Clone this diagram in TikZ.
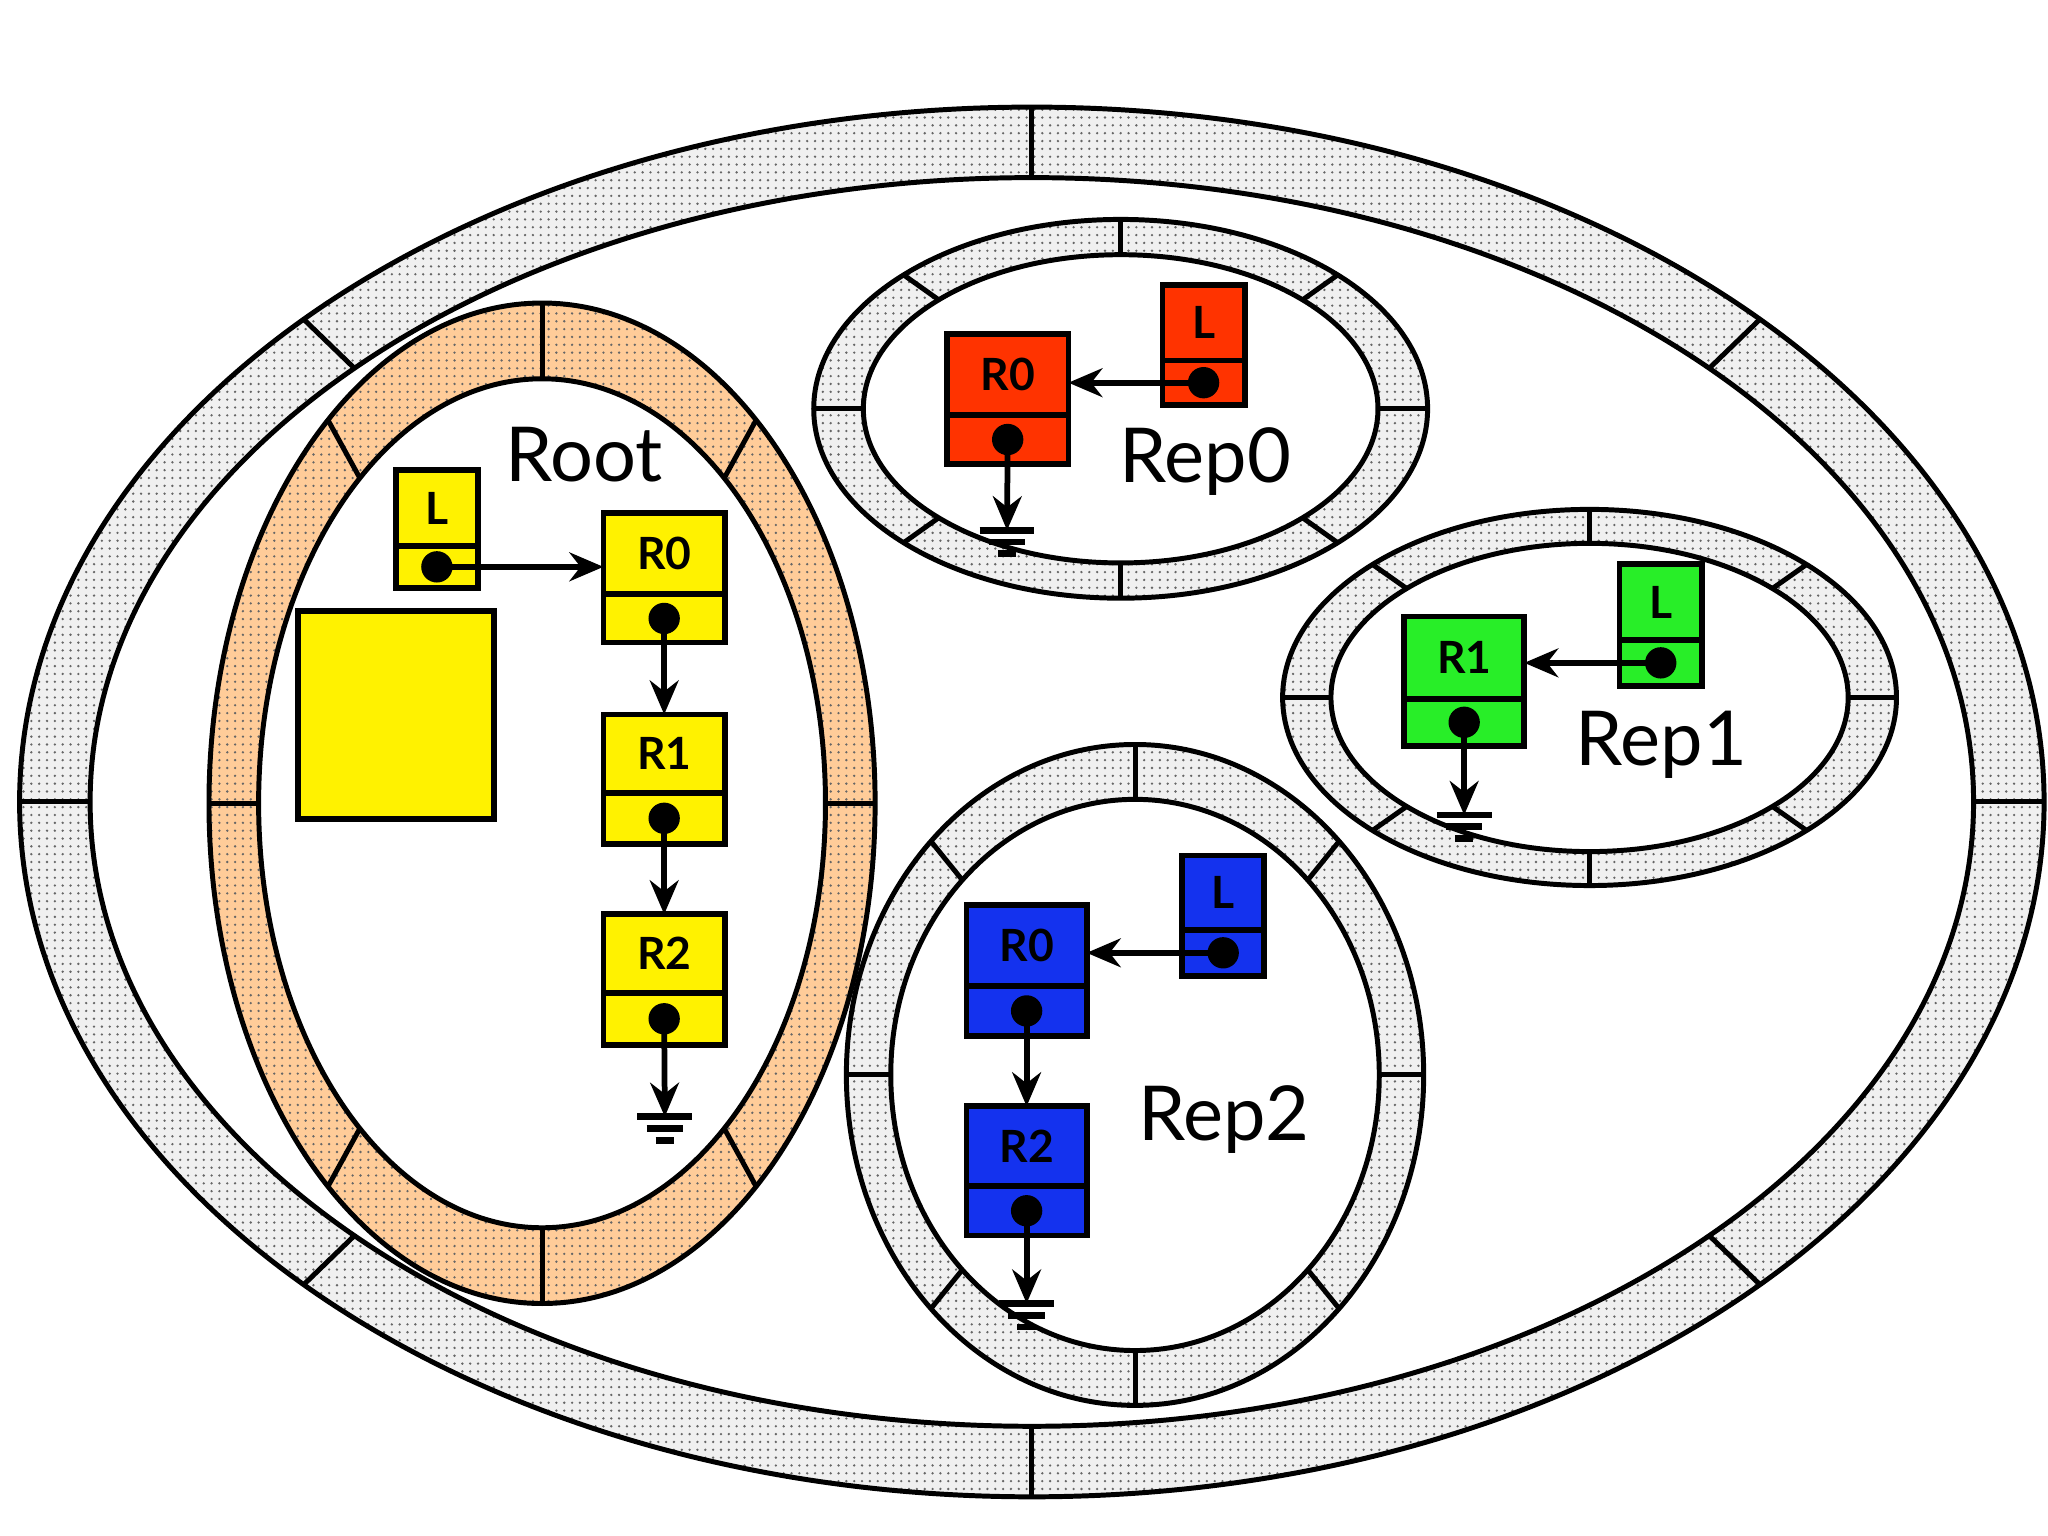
\documentclass[tikz,border=0pt]{standalone}
\usepackage{fontspec}
\setmainfont{Lato}
\usetikzlibrary{patterns,arrows.meta,calc}
\tikzset{
 ringline/.style={line width=1.9pt},
 boxline/.style={line width=2.2pt},
 conn/.style={line width=2.2pt,-{Stealth[length=13pt,width=11pt]}},
 lbl/.style={font=\fontsize{17}{17}\bfseries\selectfont},
 big/.style={font=\fontsize{29}{29}\selectfont}
}
\newcommand\myring[8]{% cx cy rxo ryo rxi ryi fill angles
 \fill[#7,even odd rule] (#1,#2) ellipse [x radius=#3,y radius=#4] (#1,#2) ellipse [x radius=#5,y radius=#6];
 \fill[pattern=dots,pattern color=gray!80!black,even odd rule] (#1,#2) ellipse [x radius=#3,y radius=#4] (#1,#2) ellipse [x radius=#5,y radius=#6];
 \draw[ringline] (#1,#2) ellipse [x radius=#3,y radius=#4] (#1,#2) ellipse [x radius=#5,y radius=#6];
 \foreach \t in {#8} {\draw[ringline] ({#1+#5*cos(\t)},{#2-#6*sin(\t)}) -- ({#1+#3*cos(\t)},{#2-#4*sin(\t)});}
}
\newcommand\rbox[8]{% name x1 y1 x2 y2 div label color
 \draw[boxline,fill=#8] (#2,#3) rectangle (#4,#5);
 \draw[boxline] (#2,#6) -- (#4,#6);
 \node[lbl] (#1) at ({(#2+#4)/2},{(#3+#6)/2}) {#7};
 \coordinate (#1-top) at ({(#2+#4)/2},#3);
 \coordinate (#1-left) at (#2,{(#3+#6)/2});
 \coordinate (#1-right) at (#4,{(#3+#6)/2});
 \coordinate (#1-dot) at ({(#2+#4)/2},{(#6+#5)/2});
 \fill (#1-dot) circle [radius=12];
}
\newcommand\gnd[1]{%
 \draw[line width=2.6pt] ($(#1)+(-21,0)$) -- ($(#1)+(21,0)$);
 \draw[line width=2.6pt] ($(#1)+(-14,9)$) -- ($(#1)+(14,9)$);
 \draw[line width=2.6pt] ($(#1)+(-7,18)$) -- ($(#1)+(7,18)$);
}
\begin{document}
\begin{tikzpicture}[x=0.5pt,y=-0.5pt]
\useasboundingbox (0,0) rectangle (1568,1176);
\fill[white] (0,0) rectangle (1568,1176);
\myring{790}{614}{775}{532}{721}{478}{gray!12}{0,44,90,136,180,224,270,316}
\myring{415}{615}{255}{383}{217}{325}{orange!40!white}{0,50,90,130,180,230,270,310}
\myring{858}{313}{235}{145}{197}{118}{gray!12}{0,45,90,135,180,225,270,315}
\myring{1217}{534}{235}{144}{198}{118}{gray!12}{0,45,90,135,180,225,270,315}
\myring{869}{823}{221}{253}{187}{211}{gray!12}{0,45,90,135,180,225,270,315}
\node[big] (root) at (447,348) {Root};
\node[big] (rep0) at (923,353) {Rep0};
\node[big] (rep1) at (1272,570) {Rep1};
\node[big] (rep2) at (937,857) {Rep2};
% root
\draw[boxline,fill=yellow] (228,468) rectangle (378,627);
\rbox{rL}{303}{360}{366}{450}{418}{L}{yellow}
\rbox{rR0}{462}{393}{555}{492}{455}{R0}{yellow}
\rbox{rR1}{462}{547}{555}{646}{607}{R1}{yellow}
\rbox{rR2}{462}{700}{555}{800}{760}{R2}{yellow}
\coordinate (g0) at (509,855);
\draw[conn] (rL-dot) -- (rL-dot -| rR0-left);
\draw[conn] (rR0-dot) -- (rR1-top);
\draw[conn] (rR1-dot) -- (rR2-top);
\draw[conn] (rR2-dot) -- (g0);
\gnd{g0}
% rep0
\definecolor{myred}{RGB}{255,51,0}
\rbox{aR0}{725}{256}{818}{355}{318}{R0}{myred}
\rbox{aL}{890}{218}{953}{310}{276}{L}{myred}
\coordinate (g1) at (771,406);
\draw[conn] (aL-dot) -- (aL-dot -| aR0-right);
\draw[conn] (aR0-dot) -- (g1);
\gnd{g1}
% rep1
\definecolor{mygreen}{RGB}{40,238,40}
\rbox{bR1}{1075}{472}{1167}{571}{535}{R1}{mygreen}
\rbox{bL}{1240}{432}{1303}{525}{490}{L}{mygreen}
\coordinate (g2) at (1121,624);
\draw[conn] (bL-dot) -- (bL-dot -| bR1-right);
\draw[conn] (bR1-dot) -- (g2);
\gnd{g2}
% rep2
\definecolor{myblue}{RGB}{20,50,238}
\rbox{cR0}{740}{693}{832}{793}{755}{R0}{myblue}
\rbox{cL}{905}{655}{968}{747}{712}{L}{myblue}
\rbox{cR2}{740}{847}{832}{946}{908}{R2}{myblue}
\coordinate (g3) at (786,998);
\draw[conn] (cL-dot) -- (cL-dot -| cR0-right);
\draw[conn] (cR0-dot) -- (cR2-top);
\draw[conn] (cR2-dot) -- (g3);
\gnd{g3}
\end{tikzpicture}
\end{document}
